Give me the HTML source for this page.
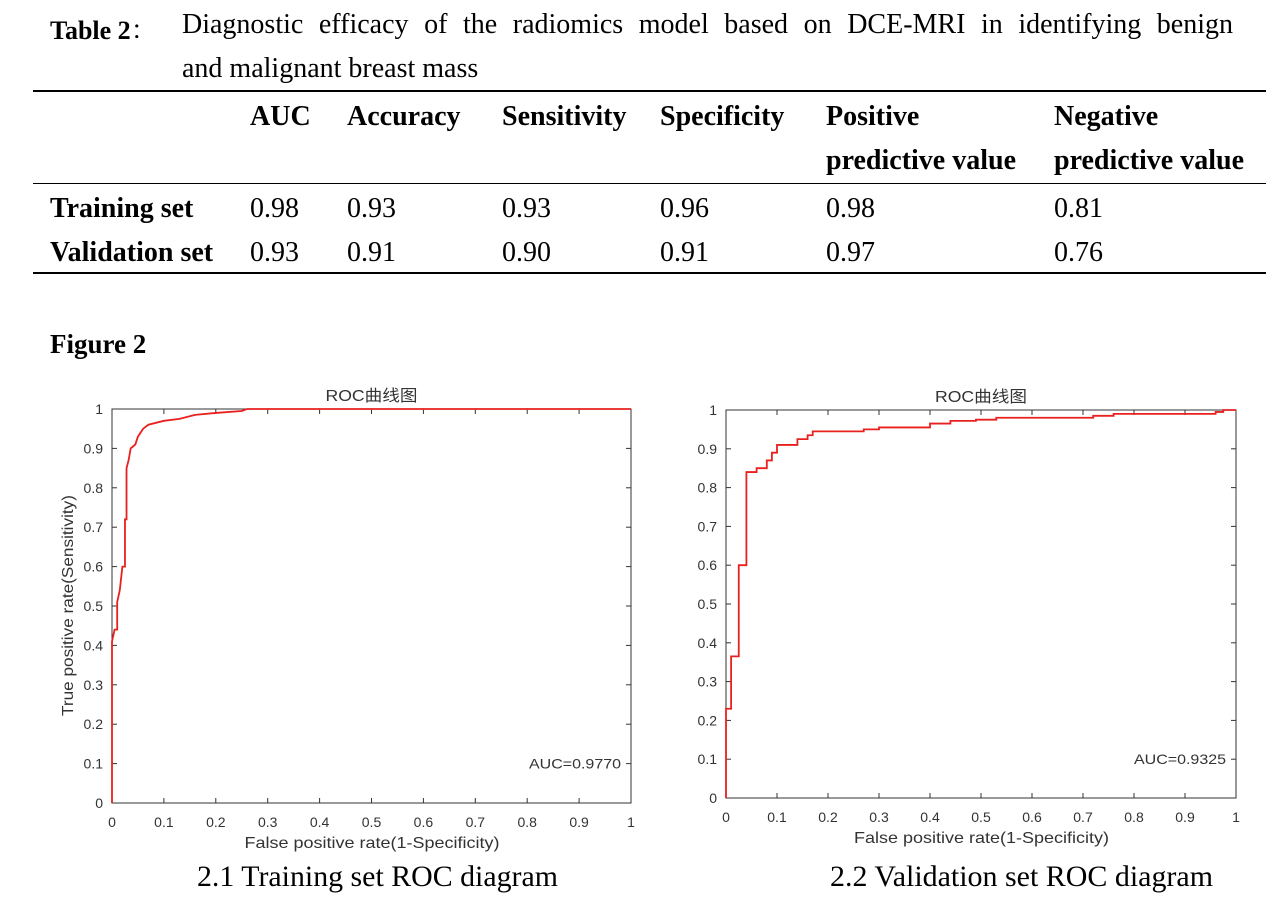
<!DOCTYPE html>
<html><head><meta charset="utf-8">
<style>
body{margin:0;width:1288px;height:924px;background:#fff;position:relative;font-family:"Liberation Serif","Noto Serif CJK SC",serif;color:#000;overflow:hidden}
.a{position:absolute;white-space:nowrap}
.t{font-size:28px}
.b{font-weight:bold}
.rule{position:absolute;left:33px;width:1233px;background:#000}
svg text{font-family:"Liberation Sans","Noto Sans CJK SC",sans-serif;fill:#333}
svg text.serif{font-family:"Liberation Serif",serif;fill:#000}
</style></head><body>
<div class="a" style="left:50px;top:10px;font-size:26px"><b>Table 2</b>：</div>
<div class="a t" style="left:182px;top:9px;width:1051px;text-align:justify;text-align-last:justify;white-space:normal">Diagnostic efficacy of the radiomics model based on DCE-MRI in identifying benign</div>
<div class="a t" style="left:182px;top:53px">and malignant breast mass</div>
<div class="rule" style="top:90px;height:2px"></div>
<div class="rule" style="top:183px;height:1px"></div>
<div class="rule" style="top:272px;height:2px"></div>
<div>
<div class="a t b" style="left:250px;top:101px">AUC</div>
<div class="a t b" style="left:347px;top:101px">Accuracy</div>
<div class="a t b" style="left:502px;top:101px">Sensitivity</div>
<div class="a t b" style="left:660px;top:101px">Specificity</div>
<div class="a t b" style="left:826px;top:101px">Positive</div>
<div class="a t b" style="left:826px;top:145px">predictive value</div>
<div class="a t b" style="left:1054px;top:101px">Negative</div>
<div class="a t b" style="left:1054px;top:145px">predictive value</div>
</div>
<div>
<div class="a t b" style="left:50px;top:193px">Training set</div>
<div class="a t" style="left:250px;top:193px">0.98</div><div class="a t" style="left:347px;top:193px">0.93</div><div class="a t" style="left:502px;top:193px">0.93</div><div class="a t" style="left:660px;top:193px">0.96</div><div class="a t" style="left:826px;top:193px">0.98</div><div class="a t" style="left:1054px;top:193px">0.81</div>
</div>
<div>
<div class="a t b" style="left:50px;top:237px">Validation set</div>
<div class="a t" style="left:250px;top:237px">0.93</div><div class="a t" style="left:347px;top:237px">0.91</div><div class="a t" style="left:502px;top:237px">0.90</div><div class="a t" style="left:660px;top:237px">0.91</div><div class="a t" style="left:826px;top:237px">0.97</div><div class="a t" style="left:1054px;top:237px">0.76</div>
</div>
<div class="a b" style="left:50px;top:329px;font-size:27px">Figure 2</div>
<svg id="s" width="1288" height="924" style="position:absolute;left:0;top:0">
<text class="serif" x="197" y="886" font-size="30" textLength="361" lengthAdjust="spacingAndGlyphs">2.1 Training set ROC diagram</text>
<text class="serif" x="830" y="886" font-size="30" textLength="383" lengthAdjust="spacingAndGlyphs">2.2 Validation set ROC diagram</text>
</svg>
<script>
const ticks=[0,0.1,0.2,0.3,0.4,0.5,0.6,0.7,0.8,0.9,1];
const tickLabels=["0","0.1","0.2","0.3","0.4","0.5","0.6","0.7","0.8","0.9","1"];
const trainFpr=[0,0,0.005,0.01,0.01,0.015,0.02,0.025,0.025,0.028,0.028,0.032,0.036,0.045,0.05,0.06,0.07,0.1,0.13,0.16,0.2,0.25,0.26,1];
const trainTpr=[0,0.41,0.44,0.44,0.51,0.54,0.6,0.6,0.72,0.72,0.85,0.87,0.9,0.91,0.93,0.95,0.96,0.97,0.975,0.985,0.99,0.995,1,1];
const valStepsX=[0,0.01,0.025,0.04,0.06,0.08,0.09,0.1,0.14,0.16,0.17,0.27,0.3,0.4,0.44,0.49,0.53,0.72,0.76,0.96,0.975,1];
const valStepsY=[0.23,0.365,0.6,0.84,0.85,0.87,0.89,0.91,0.925,0.935,0.945,0.95,0.955,0.965,0.972,0.975,0.98,0.985,0.99,0.995,1,1];
const aucLabels=["AUC=0.9770","AUC=0.9325"];
const S=document.getElementById('s');const NS="http://www.w3.org/2000/svg";
function mk(t,a,txt){const e=document.createElementNS(NS,t);for(const k in a)e.setAttribute(k,a[k]);if(txt!==undefined)e.textContent=txt;S.appendChild(e);return e;}
function chart(x0,x1,y0,y1,fpr,tpr,auc,ylab,name){
 const X=v=>x0+(x1-x0)*v,Y=v=>y0-(y0-y1)*v;
 let e=mk('rect',{x:x0,y:y1,width:x1-x0,height:y0-y1,fill:'none',stroke:'#333','stroke-width':1});
 
 
 ticks.forEach((t,i)=>{
  mk('line',{x1:X(t),x2:X(t),y1:y0,y2:y0-5,stroke:'#333'});mk('line',{x1:X(t),x2:X(t),y1:y1,y2:y1+5,stroke:'#333'});
  mk('line',{x1:x0,x2:x0+5,y1:Y(t),y2:Y(t),stroke:'#333'});mk('line',{x1:x1,x2:x1-5,y1:Y(t),y2:Y(t),stroke:'#333'});
  e=mk('text',{x:X(t),y:y0+24,'font-size':14,'text-anchor':'middle'},tickLabels[i]);
  
  
  e=mk('text',{x:x0-9,y:Y(t)+5,'font-size':14,'text-anchor':'end'},tickLabels[i]);
  
  
 });
 e=mk('polyline',{points:fpr.map((v,i)=>X(v)+','+Y(tpr[i])).join(' '),fill:'none',stroke:'#e8201e','stroke-width':1.8});
 
 
 e=mk('text',{x:(x0+x1)/2-46,y:y1-8,'font-size':16,textLength:92,lengthAdjust:'spacingAndGlyphs'},'ROC曲线图');
 
 
 e=mk('text',{x:(x0+x1)/2-127,y:y0+45,'font-size':16,textLength:255,lengthAdjust:'spacingAndGlyphs'},'False positive rate(1-Specificity)');
 
 
 e=mk('text',{x:x1-102,y:Y(0.1)+5,'font-size':14,textLength:92,lengthAdjust:'spacingAndGlyphs'},auc);
 
 
 if(ylab){e=mk('text',{x:0,y:0,'font-size':16,textLength:221,lengthAdjust:'spacingAndGlyphs',transform:'translate(73,'+((y0+y1)/2+110)+') rotate(-90)'},ylab);
 
 }
}
chart(112,631,803,409,trainFpr,trainTpr,aucLabels[0],'True positive rate(Sensitivity)','training');
const vx=[0],vy=[0];let py=0;
valStepsX.forEach((x,i)=>{vx.push(x);vy.push(py);vx.push(x);vy.push(valStepsY[i]);py=valStepsY[i];});
chart(726,1236,798,410,vx,vy,aucLabels[1],null,'validation');
</script>
</body></html>
